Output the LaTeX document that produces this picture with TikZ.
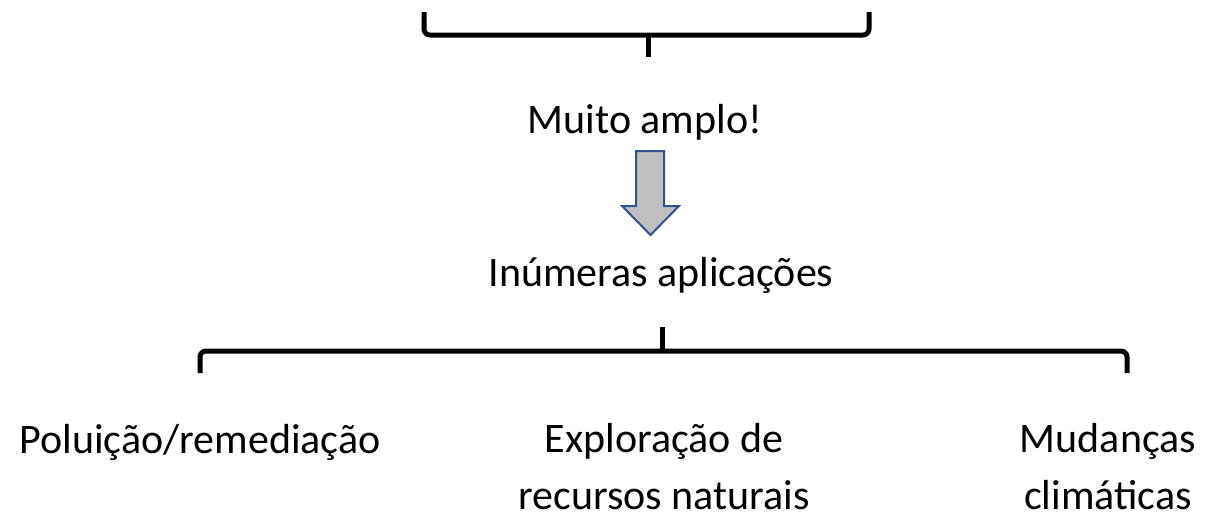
\documentclass[tikz,border=0pt]{standalone}
\usepackage{fontspec}
\setmainfont{Carlito}
\begin{document}
\begin{tikzpicture}[x=1pt,y=-1pt,
  brace/.style={line width=5pt,rounded corners=6pt,line join=round},
  lbl/.style={font=\fontsize{42}{57}\selectfont,anchor=base,align=center,inner sep=0pt},
  blockarrow/.style={draw=arrowblue,fill=arrowgray,line width=2pt,line join=miter}]
\definecolor{arrowblue}{HTML}{2F528F}
\definecolor{arrowgray}{HTML}{BFBFBF}
\useasboundingbox (0,0) rectangle (1216,520);
% top brace
\coordinate (tl) at (424,12);
\coordinate (tr) at (869,12);
\coordinate (tm) at (648,35);
\coordinate (tt) at (648,57);
\draw[brace] (tl) -- (424,35) -- (tm) -- (869,35) -- (tr);
\draw[line width=5pt] (tm) -- (tt);
% text
\node[lbl] (muito) at (645,133) {Muito amplo!};
% block arrow
\draw[blockarrow] (636,151) -- (664,151) -- (664,206) -- (679,206) -- (650.5,235) -- (622,206) -- (636,206) -- cycle;
\node[lbl] (inum) at (661,286) {Inúmeras aplicações};
% bottom brace
\coordinate (bl) at (200,373);
\coordinate (br) at (1127,373);
\coordinate (bm) at (662,351);
\coordinate (bt) at (662,327);
\draw[brace] (bl) -- (200,351) -- (bm) -- (1127,351) -- (br);
\draw[line width=5pt] (bm) -- (bt);
% leaves
\node[lbl] (polu) at (200,453) {Poluição/remediação};
\node[lbl] (expl) at (664,509) {Exploração de\\recursos naturais};
\node[lbl] (muda) at (1108,509) {Mudanças\\climáticas};
\end{tikzpicture}
\end{document}
